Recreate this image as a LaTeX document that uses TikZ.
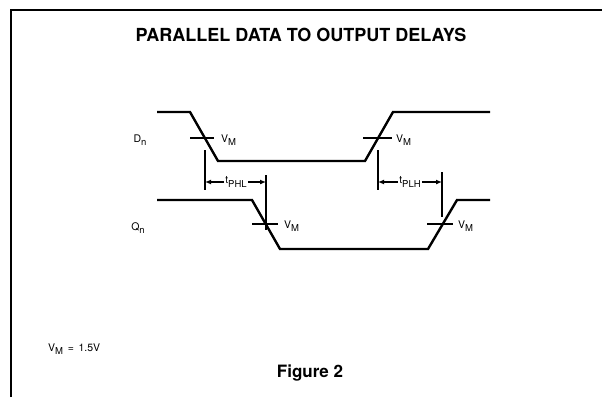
\documentclass[tikz,border=0pt]{standalone}
\usepackage{fontspec}
\setmainfont{TeX Gyre Heros}
\usetikzlibrary{arrows.meta, positioning, calc}
\newcommand{\lowsub}[1]{\raisebox{-0.55ex}{\fontsize{9.5}{10}\selectfont #1}}
\tikzset{
    wave/.style={line width=2.4pt, line join=miter},
    vmtick/.style={line width=1.2pt},
    refline/.style={line width=1.2pt},
    lbl/.style={font=\fontsize{10.5}{13}\selectfont, inner sep=1pt},
    dim/.style={line width=1.2pt, -{Latex[length=6pt,width=5pt]}},
    frame/.style={line width=1.3pt}
}
\begin{document}
\begin{tikzpicture}[x=1pt, y=-1pt]
    \useasboundingbox (0,0) rectangle (602,397);
    \draw [frame] (11,397) -- (11,10) -- (602,10);

    \node [font=\bfseries\fontsize{18}{21}\selectfont] (title) at (301,35) {PARALLEL DATA TO OUTPUT DELAYS};

    % signal names
    \node [lbl] (dn) at (140,140) {D\lowsub{n}};
    \node [lbl] (qn) at (138,228) {Q\lowsub{n}};

    % waveforms
    \draw [wave] (157,112) -- (190,112) -- (218,161) -- (365,161) -- (393,112) -- (490,112);
    \draw [wave] (157,200) -- (252,200) -- (280,249) -- (428,249) -- (457,200) -- (490,200);

    % crossing points
    \coordinate (dfall) at (205,138);
    \coordinate (drise) at (378,138);
    \coordinate (qfall) at (266,224);
    \coordinate (qrise) at (442,224);

    \draw [vmtick] ([xshift=-15pt]dfall) -- ([xshift=9pt]dfall);
    \draw [vmtick] ([xshift=-15pt]drise) -- ([xshift=14pt]drise);
    \draw [vmtick] ([xshift=-14pt]qfall) -- ([xshift=12pt]qfall);
    \draw [vmtick] ([xshift=-15pt]qrise) -- ([xshift=11pt]qrise);

    \node [lbl, anchor=west] (vm1) at (220,140) {V\lowsub{M}};
    \node [lbl, anchor=west] (vm2) at (395,140) {V\lowsub{M}};
    \node [lbl, anchor=west] (vm3) at (283,226) {V\lowsub{M}};
    \node [lbl, anchor=west] (vm4) at (457,226) {V\lowsub{M}};

    % reference lines
    \draw [refline] ([yshift=-12pt]dfall) -- ([yshift=-52pt]dfall);
    \draw [refline] ([yshift=49pt]qfall) -- ([yshift=-6pt]qfall);
    \draw [refline] ([yshift=-12pt]drise) -- ([yshift=-52pt]drise);
    \draw [refline] ([yshift=52pt]qrise) -- ([yshift=7pt]qrise);

    % delay labels
    \node [lbl] (tphl) at (236,182) {t\lowsub{PHL}};
    \node [lbl] (tplh) at (410,182) {t\lowsub{PLH}};
    \draw [dim] (tphl.west) -- (tphl.west -| dfall);
    \draw [dim] (tphl.east) -- (tphl.east -| qfall);
    \draw [dim] (tplh.west) -- (tplh.west -| drise);
    \draw [dim] (tplh.east) -- (tplh.east -| qrise);

    \node [lbl, anchor=west] (vmval) at (47,349) {V\lowsub{M} \,=\, 1.5V};
    \node [font=\bfseries\fontsize{17}{20}\selectfont] (fig) at (310,373) {Figure 2};
\end{tikzpicture}
\end{document}
